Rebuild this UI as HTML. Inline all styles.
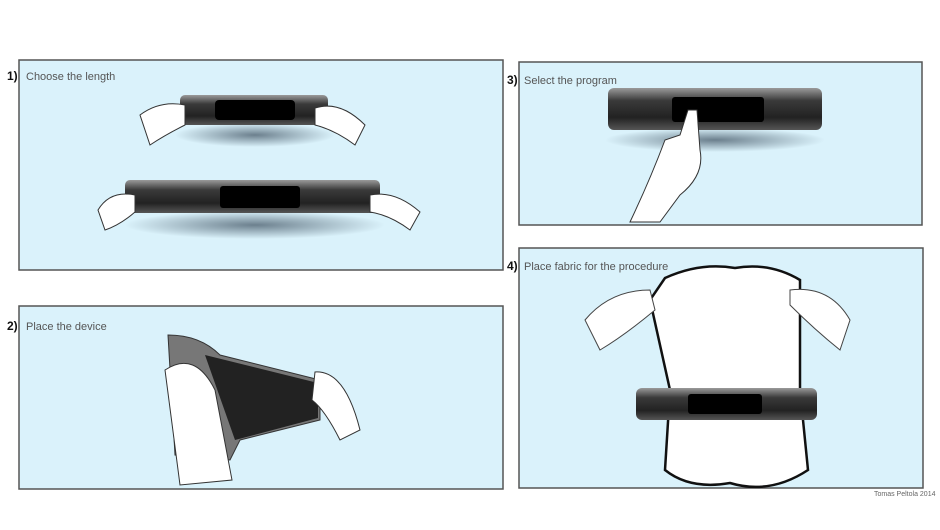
<!DOCTYPE html>
<html><head><meta charset="utf-8"><style>
body{margin:0;background:#fff;}
svg{display:block;font-family:"Liberation Sans",sans-serif;}
</style></head><body>
<svg width="940" height="530" viewBox="0 0 940 530">
<defs>
<linearGradient id="tube" x1="0" y1="0" x2="0" y2="1">
<stop offset="0" stop-color="#9a9a9a"/><stop offset="0.3" stop-color="#3a3a3a"/><stop offset="0.7" stop-color="#222"/><stop offset="1" stop-color="#555"/></linearGradient>
<radialGradient id="sh" cx="0.5" cy="0.5" r="0.5"><stop offset="0" stop-color="#234" stop-opacity="0.6"/><stop offset="1" stop-color="#234" stop-opacity="0"/></radialGradient>
</defs>
<g fill="#daf2fb" stroke="#555" stroke-width="1.5">
<rect x="19" y="60" width="484" height="210"/>
<rect x="19" y="306" width="484" height="183"/>
<rect x="519" y="62" width="403" height="163"/>
<rect x="519" y="248" width="404" height="240"/>
</g>
<g font-size="12" fill="#111" font-weight="bold">
<text x="7" y="80">1)</text><text x="7" y="330">2)</text><text x="507" y="84">3)</text><text x="507" y="270">4)</text>
</g>
<g font-size="11" fill="#555">
<text x="26" y="80">Choose the length</text>
<text x="26" y="330">Place the device</text>
<text x="524" y="84">Select the program</text>
<text x="524" y="270">Place fabric for the procedure</text>
</g>
<text x="874" y="496" font-size="7" fill="#666">Tomas Peltola 2014</text>
<!-- panel1 -->
<ellipse cx="255" cy="135" rx="80" ry="12" fill="url(#sh)"/>
<rect x="180" y="95" width="148" height="30" rx="5" fill="url(#tube)"/>
<rect x="215" y="100" width="80" height="20" rx="4" fill="#000"/>
<ellipse cx="255" cy="225" rx="130" ry="14" fill="url(#sh)"/>
<rect x="125" y="180" width="255" height="33" rx="5" fill="url(#tube)"/>
<rect x="220" y="186" width="80" height="22" rx="3" fill="#000"/>
<g fill="#fff" stroke="#333" stroke-width="1">
<path d="M140 115 Q160 100 185 105 L185 125 Q165 135 150 145 Z"/>
<path d="M315 108 Q340 100 365 125 L355 145 Q335 130 315 125 Z"/>
<path d="M98 210 Q110 190 135 195 L135 212 Q120 225 105 230 Z"/>
<path d="M370 195 Q395 190 420 212 L410 230 Q390 215 370 212 Z"/>
</g>
<!-- panel2 -->
<path d="M168 335 Q200 335 220 355 L320 380 L320 420 L240 440 L230 460 L175 455 Z" fill="#777" stroke="#333"/>
<path d="M205 355 L318 383 L318 418 L235 440 Z" fill="#222"/>
<path d="M165 370 Q195 350 215 390 L232 480 L180 485 Z" fill="#fff" stroke="#333"/>
<path d="M315 372 Q345 370 360 430 L340 440 Q325 410 312 400 Z" fill="#fff" stroke="#333"/>
<!-- panel3 -->
<ellipse cx="715" cy="140" rx="110" ry="12" fill="url(#sh)"/>
<rect x="608" y="88" width="214" height="42" rx="6" fill="url(#tube)"/>
<rect x="672" y="97" width="92" height="25" rx="3" fill="#000"/>
<path d="M688 110 L697 110 L700 150 Q705 175 680 195 L660 222 L630 222 Q650 180 665 140 L680 135 Z" fill="#fff" stroke="#333"/>
<!-- panel4 -->
<path d="M665 278 Q700 262 735 268 Q770 262 800 280 L800 390 L808 470 Q770 495 730 483 Q690 490 665 470 L670 390 L650 300 Z" fill="#fff" stroke="#111" stroke-width="2.5"/>
<path d="M585 320 Q610 290 650 290 L655 310 Q625 335 600 350 Z" fill="#fff" stroke="#444"/>
<path d="M790 290 Q830 285 850 320 L840 350 Q815 330 790 305 Z" fill="#fff" stroke="#444"/>
<rect x="636" y="388" width="181" height="32" rx="6" fill="url(#tube)"/>
<rect x="688" y="394" width="74" height="20" rx="3" fill="#000"/>
</svg>
</body></html>
